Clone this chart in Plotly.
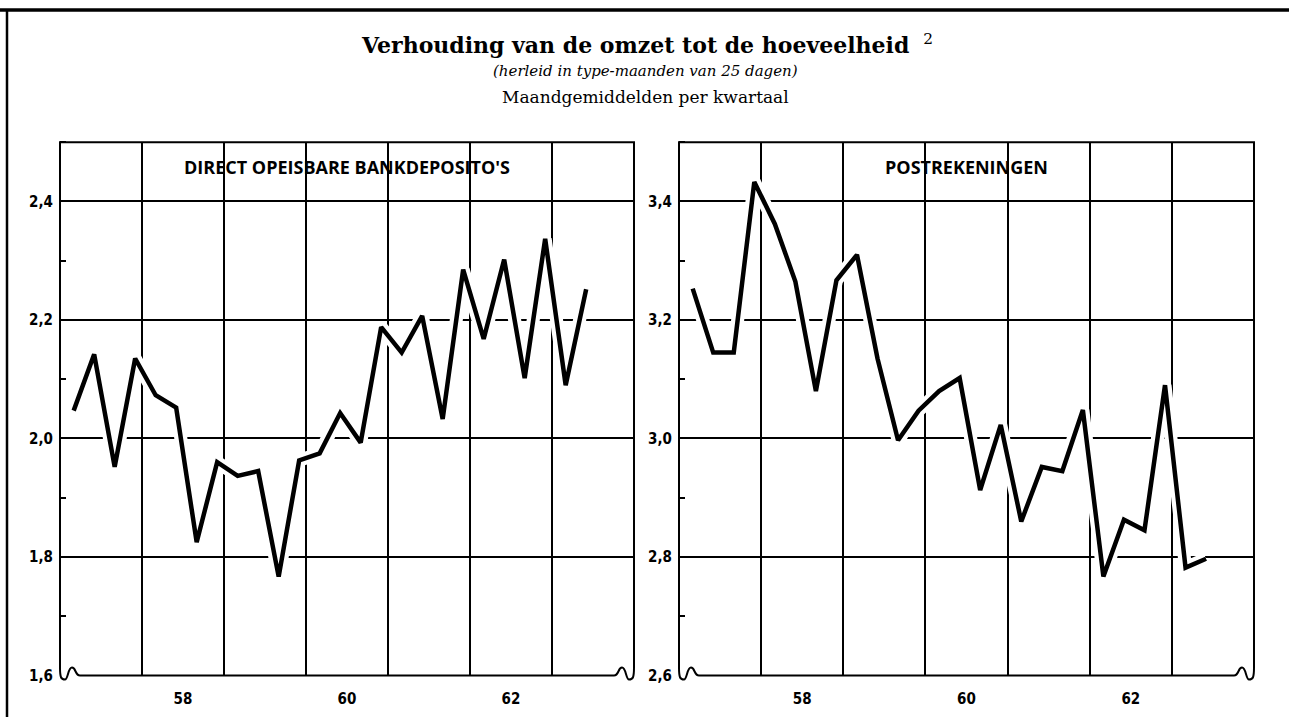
import plotly.graph_objects as go

# Quarterly averages of monthly figures, 1957 Q1 - 1963 Q2
START_YEAR = 1957
QUARTERS = [f"{START_YEAR + i // 4}-K{i % 4 + 1}" for i in range(26)]

# Direct opeisbare bankdeposito's
bank_deposits = [2.047, 2.142, 1.952, 2.135, 2.073, 2.052, 1.825, 1.960, 1.937, 1.945,
                 1.767, 1.963, 1.975, 2.043, 1.993, 2.188, 2.145, 2.207, 2.033, 2.285,
                 2.168, 2.302, 2.102, 2.337, 2.090, 2.252]

# Postrekeningen
postal_accounts = [3.253, 3.145, 3.145, 3.433, 3.362, 3.265, 3.080, 3.267, 3.310, 3.135,
                   2.997, 3.047, 3.080, 3.102, 2.913, 3.023, 2.860, 2.952, 2.945, 3.048,
                   2.767, 2.863, 2.845, 3.090, 2.782, 2.797]

year_ticks = [1958.5, 1960.5, 1962.5]
year_labels = ["58", "60", "62"]

panel_titles = ["DIRECT OPEISBARE BANKDEPOSITO'S", "POSTREKENINGEN"]
y_ranges = [(1.6, 2.5), (2.6, 3.5)]

W, H = 1289, 726


def quarter_pos(label):
    year, q = label.split("-K")
    # each quarter is placed at its middle month
    return int(year) + (3 * (int(q) - 1) + 2) / 12


xq = [quarter_pos(q) for q in QUARTERS]

# panel frames in pixels (left, right, top, bottom)
panels = [(60, 634, 144, 684), (679, 1254, 144, 684)]

fig = go.Figure()

series = [bank_deposits, postal_accounts]
for i, vals in enumerate(series):
    xa = "x" if i == 0 else "x2"
    ya = "y" if i == 0 else "y2"
    # white halo so the grid breaks around the curve
    fig.add_trace(go.Scatter(x=xq, y=vals, mode="lines", xaxis=xa, yaxis=ya,
                             line=dict(color="white", width=13), hoverinfo="skip",
                             showlegend=False))
    fig.add_trace(go.Scatter(x=xq, y=vals, mode="lines", xaxis=xa, yaxis=ya,
                             line=dict(color="black", width=4.5), showlegend=False,
                             name=panel_titles[i]))

tick_font = dict(family="Liberation Sans Narrow, DejaVu Sans Condensed, Roboto",
                 size=15, color="black", weight="bold")

layout_axes = {}
for i, (l, r, t, b) in enumerate(panels):
    sx = "xaxis" if i == 0 else "xaxis2"
    sy = "yaxis" if i == 0 else "yaxis2"
    layout_axes[sx] = dict(
        domain=[l / W, r / W], range=[START_YEAR, START_YEAR + 7],
        anchor="y" if i == 0 else "y2",
        tickmode="array", tickvals=year_ticks, ticktext=year_labels,
        showgrid=False, ticks="", showline=False, zeroline=False,
        tickfont=tick_font, ticklabelstandoff=12,
        minor=dict(tickmode="linear", tick0=START_YEAR, dtick=1, showgrid=True,
                   gridcolor="black", gridwidth=1.5, ticks=""),
    )
    y0, y1 = y_ranges[i]
    layout_axes[sy] = dict(
        domain=[(H - b) / H, (H - t) / H], range=[y0, y1],
        anchor="x" if i == 0 else "x2",
        tickmode="linear", tick0=y0, dtick=0.2, tickformat=".1f",
        showgrid=True, gridcolor="black", gridwidth=1.5,
        ticks="", showline=False, zeroline=False,
        tickfont=tick_font, ticklabelstandoff=6,
        minor=dict(tickmode="linear", tick0=y0, dtick=0.1, ticks="inside",
                   ticklen=6, tickwidth=1.5, tickcolor="black", showgrid=False),
    )

fig.update_layout(
    width=W, height=H, margin=dict(l=0, r=0, t=0, b=0),
    paper_bgcolor="white", plot_bgcolor="white",
    separators=",.", showlegend=False,
    **layout_axes,
)


def frame_path(l, r, t, b):
    """Panel border with the broken-scale wiggles at the bottom corners."""
    def p(px, py):
        return f"{px / W:.6f},{1 - py / H:.6f}"
    return " ".join([
        f"M {p(l, t)}", f"L {p(r, t)}", f"L {p(r, b - 8)}",
        f"C {p(r, b + 2)} {p(r - 1, b + 4)} {p(r - 5, b + 4)}",
        f"C {p(r - 8, b + 4)} {p(r - 8, b - 8)} {p(r - 12, b - 8)}",
        f"C {p(r - 16, b - 8)} {p(r - 15, b)} {p(r - 20, b)}",
        f"L {p(l + 20, b)}",
        f"C {p(l + 15, b)} {p(l + 16, b - 8)} {p(l + 12, b - 8)}",
        f"C {p(l + 8, b - 8)} {p(l + 8, b + 4)} {p(l + 5, b + 4)}",
        f"C {p(l + 1, b + 4)} {p(l, b + 2)} {p(l, b - 8)}",
        "Z",
    ])


shapes = []
for (l, r, t, b) in panels:
    # mask the straight bottom grid line under the wiggles
    for xa, xb in ((l - 1, l + 20), (r - 20, r + 1)):
        shapes.append(dict(type="rect", xref="paper", yref="paper",
                           x0=xa / W, x1=xb / W, y0=1 - (b + 3) / H, y1=1 - (b - 3) / H,
                           fillcolor="white", line=dict(width=0), layer="above"))
    shapes.append(dict(type="path", xref="paper", yref="paper", path=frame_path(l, r, t, b),
                       line=dict(color="black", width=2), layer="above"))
# outer page rules
shapes.append(dict(type="line", xref="paper", yref="paper", x0=0, x1=1,
                   y0=1 - 10 / H, y1=1 - 10 / H, line=dict(color="black", width=3.5)))
shapes.append(dict(type="line", xref="paper", yref="paper", x0=7 / W, x1=7 / W,
                   y0=0, y1=1 - 10 / H, line=dict(color="black", width=2.5)))
fig.update_layout(shapes=shapes)

serif = "DejaVu Serif, Liberation Serif, serif"
annotations = [
    dict(text="<b>Verhouding van de omzet tot de hoeveelheid</b>  <sup>2</sup>",
         x=647 / W, y=1 - 45 / H, font=dict(family=serif, size=22, color="black")),
    dict(text="<i>(herleid in type-maanden van 25 dagen)</i>",
         x=645 / W, y=1 - 72 / H, font=dict(family=serif, size=15, color="black")),
    dict(text="Maandgemiddelden per kwartaal",
         x=645 / W, y=1 - 98 / H, font=dict(family=serif, size=17, color="black")),
]
for i, (l, r, t, b) in enumerate(panels):
    annotations.append(dict(
        text=f"<b>{panel_titles[i]}</b>", x=(l + r) / 2 / W, y=1 - 169 / H,
        font=dict(family="Open Sans, Noto Sans, sans-serif", size=18, color="black")))
for a in annotations:
    a.update(xref="paper", yref="paper", showarrow=False, xanchor="center", yanchor="middle")
fig.update_layout(annotations=annotations)

fig.write_html("out.html")
